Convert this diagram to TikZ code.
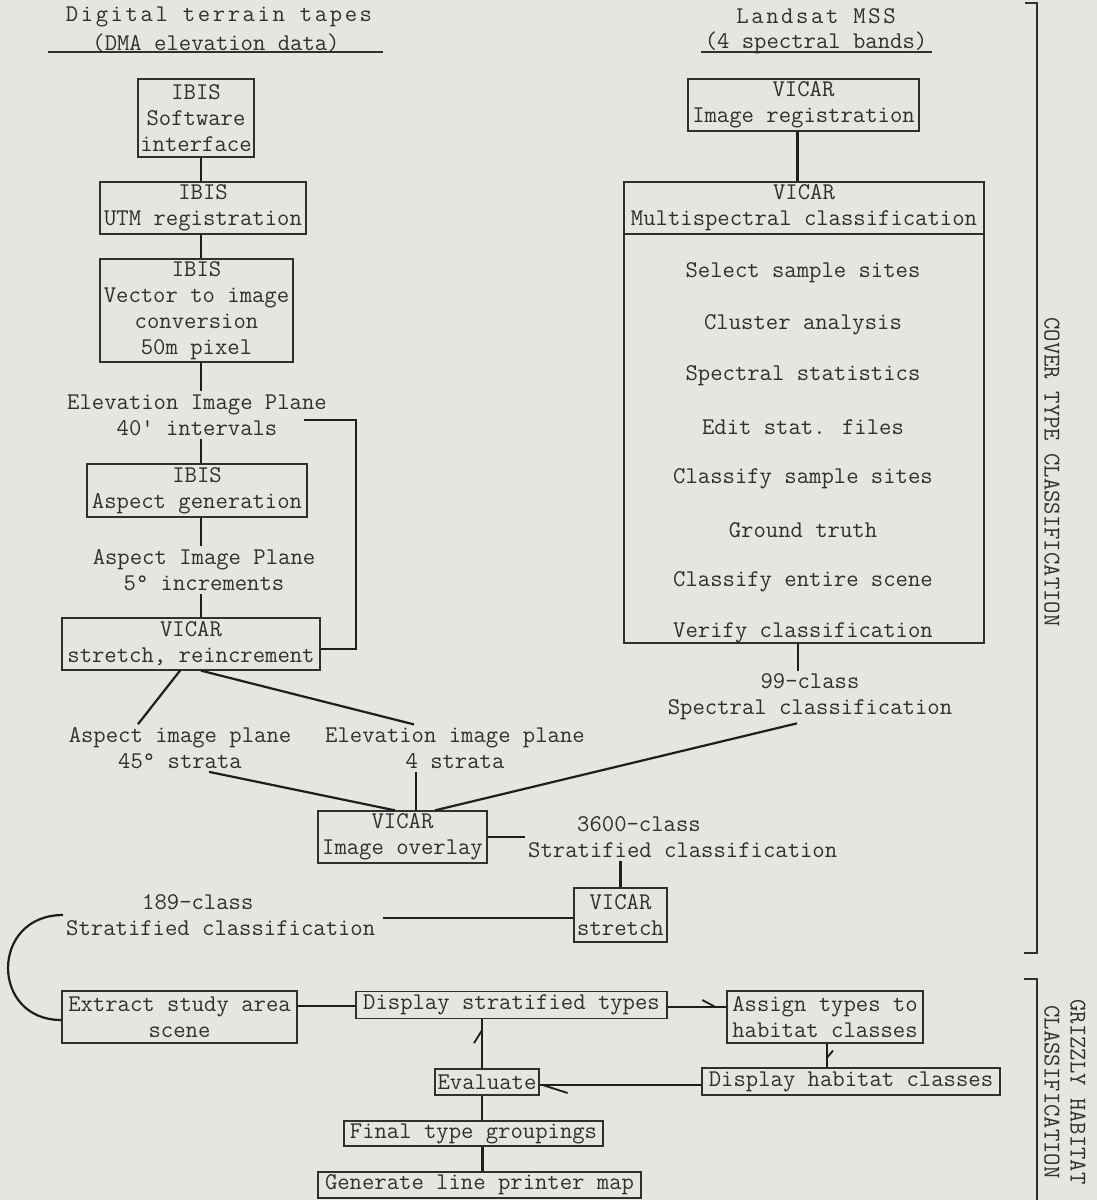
\documentclass[tikz,border=0pt]{standalone}
\usepackage{fontspec}
\usetikzlibrary{calc}
\definecolor{bg}{RGB}{229,230,224}
\definecolor{ink}{RGB}{48,48,48}
\definecolor{lineink}{RGB}{30,30,30}
\newfontfamily\widett{Latin Modern Mono}[LetterSpace=10.8]
\begin{document}
\begin{tikzpicture}[x=1pt,y=-1pt,
  every node/.style={font=\ttfamily\fontsize{24}{26}\selectfont, text=ink},
  box/.style={draw=ink, line width=1.3pt, inner sep=0pt, align=center},
  lbl/.style={inner sep=3pt, align=center},
  conn/.style={draw=lineink, line width=2.2pt},
  barb/.style={draw=lineink, line width=1.8pt},
  thin/.style={draw=ink, line width=1.5pt}]
\fill[bg] (0,0) rectangle (1097,1200);
\useasboundingbox (0,0) rectangle (1097,1200);

% headers
\node[inner sep=0pt] (hL1) at (219,17) {\widett Digital terrain tapes};
\node[inner sep=0pt] (hL2) at (216,43) {(DMA elevation data)};
\draw[thin] (48,52) -- (383,52);
\node[inner sep=0pt] (hR1) at (816,16) {\widett Landsat MSS};
\node[inner sep=0pt] (hR2) at (816,43) {(4 spectral bands)};
\draw[thin] (701,52) -- (932,52);

% left column
\coordinate (lc) at (201,0);
\node[box, minimum width=116, minimum height=78] (sw) at (196,118) {IBIS\\Software\\interface};
\node[box, minimum width=206, minimum height=52] (utm) at (203,208) {IBIS\\UTM registration};
\node[box, minimum width=193, minimum height=103] (vec) at (196.5,310.5) {IBIS\\Vector to image\\conversion\\50m pixel};
\node[lbl] (elev) at (197,415) {Elevation Image Plane\\40\textquotesingle{} intervals};
\node[box, minimum width=220, minimum height=53] (aspg) at (197,490.5) {IBIS\\Aspect generation};
\node[lbl] (asplbl) at (204,570) {Aspect Image Plane\\5° increments};
\node[box, minimum width=258, minimum height=52] (vstr) at (191,644) {VICAR\\stretch, reincrement};

\draw[conn] (sw.south -| lc) -- (utm.north -| lc);
\draw[conn] (utm.south -| lc) -- (vec.north -| lc);
\draw[conn] (vec.south -| lc) -- (elev.north -| lc);
\draw[conn] (elev.south -| lc) -- (aspg.north -| lc);
\draw[conn] (aspg.south -| lc) -- (asplbl.north -| lc);
\draw[conn] (asplbl.south -| lc) -- (vstr.north -| lc);

\coordinate (fb) at (304,420);
\draw[conn] (fb) -- ++(52,0) |- ($(vstr.east)+(0,5)$);

% strata labels and overlay
\node[lbl] (a45) at (180,748) {Aspect image plane\\45° strata};
\node[lbl] (e4) at (455,748) {Elevation image plane\\4 strata};
\draw[conn] ($(vstr.south)+(-11,0)$) -- ($(a45.north)+(-42,0)$);
\draw[conn] ($(vstr.south)+(10,0)$) -- ($(e4.north)+(-41,0)$);

\node[box, minimum width=169, minimum height=52] (ovl) at (402.5,837) {VICAR\\Image overlay};
\draw[conn] ($(a45.south)+(29,0)$) -- ($(ovl.north)+(-7.5,0)$);
\draw[conn] ($(e4.south)+(-39,0)$) -- ($(ovl.north)+(13.5,0)$);

% right column
\node[box, minimum width=231, minimum height=52] (reg) at (803.5,105) {VICAR\\Image registration};
\node[box, minimum width=360, minimum height=461] (multi) at (804,412.5) {};
\node[box, minimum width=360, minimum height=52] (mhead) at (804,208) {VICAR\\Multispectral classification};
\foreach \t [count=\i from 0] in {Select sample sites, Cluster analysis, Spectral statistics, Edit stat. files, Classify sample sites, Ground truth, Classify entire scene, Verify classification}
  \node (it\i) at (803,{273+51.4*\i}) {\t};
\node[lbl] (l99) at (810,697) {99-class\\Spectral classification};
\draw[conn] ($(reg.south)+(-6,0)$) -- ($(reg.south |- multi.north)+(-6,0)$);
\draw[conn] ($(multi.south)+(-6,0)$) -- ($(multi.south |- l99.north)+(-6,0)$);
\draw[conn] ($(ovl.north)+(32.5,0)$) -- ($(l99.south)+(-13,0)$);

% 3600 / stretch / 189
\node[lbl, align=left, anchor=west] (l3600) at (525,837) {\hspace*{49pt}3600-class\\Stratified classification};
\draw[conn] (ovl.east) -- (ovl.east -| l3600.west);
\node[box, minimum width=93, minimum height=54] (str2) at (620.5,915) {VICAR\\stretch};
\draw[conn] (str2.north) -- (str2.north |- l3600.south);
\node[lbl, align=left, anchor=west] (l189) at (63,915) {\hspace*{76pt}189-class\\Stratified classification};
\draw[conn] ($(str2.west)+(0,3)$) -- ($(str2.west -| l189.east)+(5,3)$);

% habitat part
\node[box, minimum width=235, minimum height=52] (ext) at (179.5,1017) {Extract study area\\scene};
\draw[conn] (l189.west) .. controls (-10,915) and (-10,1020) .. ($(ext.west)+(0,3)$);
\node[box, minimum width=311, minimum height=27] (dst) at (511.5,1005) {Display stratified types};
\draw[conn] ($(dst.west)+(0,1)$) -- ($(dst.west -| ext.east)+(0,1)$);
\node[box, minimum width=196, minimum height=52] (asg) at (825,1017) {Assign types to\\habitat classes};
\draw[conn] ($(dst.east)+(0,2)$) -- ($(dst.east -| asg.west)+(0,2)$);
\draw[barb] ($(dst.east -| asg.west)+(-11,2)$) -- ++(-13,-7);
\node[box, minimum width=298, minimum height=27] (dhab) at (851,1081.5) {Display habitat classes};
\draw[conn] ($(asg.south)+(2,0)$) -- ($(asg.south |- dhab.north)+(2,0)$);
\draw[barb] ($(asg.south)+(2,14)$) -- ++(6,-7);
\node[box, minimum width=104, minimum height=26] (evl) at (487,1082) {Evaluate};
\draw[conn] ($(dhab.west)+(0,3.5)$) -- ($(dhab.west -| evl.east)+(0,3.5)$);
\draw[barb] ($(dhab.west -| evl.east)+(3,3.5)$) -- ++(25,8);
\draw[conn] ($(evl.north)+(-5,0)$) -- ($(evl.north |- dst.south)+(-5,0)$);
\draw[barb] ($(evl.north |- dst.south)+(-5,11)$) -- ++(-8,13);
\node[box, minimum width=259, minimum height=25] (fin) at (473.5,1133.5) {Final type groupings};
\draw[conn] ($(evl.south)+(-5,0)$) -- ($(evl.south |- fin.north)+(-5,0)$);
\node[box, minimum width=323, minimum height=26] (gen) at (479.5,1185) {Generate line printer map};
\draw[conn] ($(fin.south)+(9,0)$) -- ($(fin.south |- gen.north)+(9,0)$);

% side brackets
\draw[thin] (1025,3) -- (1037,3) -- (1037,953) -- (1024,953);
\draw[thin] (1024,979) -- (1037,979) -- (1037,1200);
\node[rotate=-90, inner sep=0pt] (ctc) at (1052,472) {COVER TYPE CLASSIFICATION};
\node[rotate=-90, inner sep=0pt, align=center] (ghc) at (1065,1092) {GRIZZLY HABITAT\\CLASSIFICATION};
\end{tikzpicture}
\end{document}
